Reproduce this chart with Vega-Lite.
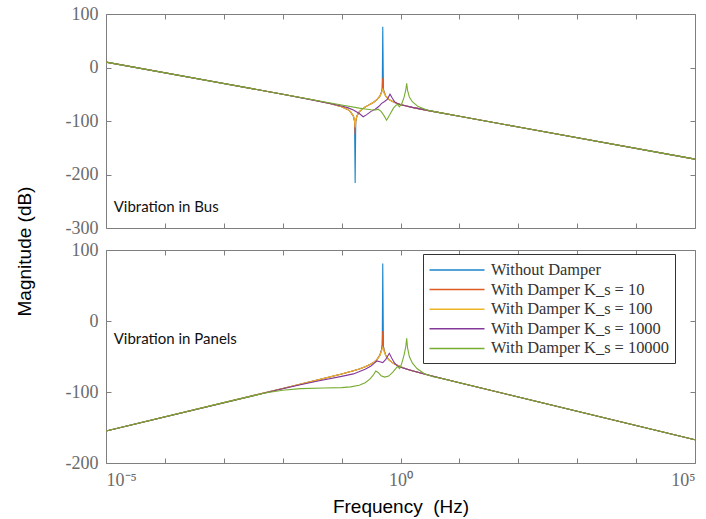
{
  "$schema": "https://vega.github.io/schema/vega-lite/v6.json",
  "padding": {"left": 14, "top": 4, "right": 0, "bottom": 0},
  "background": "white",
  "spacing": 22,
  "bounds": "flush",
  "resolve": {"scale": {"color": "independent"}},
  "datasets": {
    "bus": [
      {"s":"Without Damper","f":0.00001,"m":10},{"s":"Without Damper","f":0.001,"m":-30},{"s":"Without Damper","f":0.01,"m":-50},{"s":"Without Damper","f":0.03162,"m":-60.3},{"s":"Without Damper","f":0.0631,"m":-67.2},{"s":"Without Damper","f":0.1,"m":-73.3},{"s":"Without Damper","f":0.1259,"m":-78.3},{"s":"Without Damper","f":0.1413,"m":-82.5},{"s":"Without Damper","f":0.1585,"m":-90.8},{"s":"Without Damper","f":0.166,"m":-100},{"s":"Without Damper","f":0.1698,"m":-216},{"s":"Without Damper","f":0.1738,"m":-100.6},{"s":"Without Damper","f":0.182,"m":-90.7},{"s":"Without Damper","f":0.1995,"m":-83},{"s":"Without Damper","f":0.2239,"m":-77.7},{"s":"Without Damper","f":0.2512,"m":-74},{"s":"Without Damper","f":0.2818,"m":-70.8},{"s":"Without Damper","f":0.3162,"m":-67.7},{"s":"Without Damper","f":0.3548,"m":-64.5},{"s":"Without Damper","f":0.3981,"m":-60.2},{"s":"Without Damper","f":0.4467,"m":-53.7},{"s":"Without Damper","f":0.4786,"m":-45.3},{"s":"Without Damper","f":0.4898,"m":-38.6},{"s":"Without Damper","f":0.5,"m":76},{"s":"Without Damper","f":0.5129,"m":-40.4},{"s":"Without Damper","f":0.5248,"m":-45.9},{"s":"Without Damper","f":0.5623,"m":-53.5},{"s":"Without Damper","f":0.631,"m":-59.3},{"s":"Without Damper","f":0.7079,"m":-62.8},{"s":"Without Damper","f":0.7943,"m":-65.3},{"s":"Without Damper","f":1,"m":-69},{"s":"Without Damper","f":1.259,"m":-71.9},{"s":"Without Damper","f":1.585,"m":-74.5},{"s":"Without Damper","f":3.162,"m":-81.1},{"s":"Without Damper","f":10,"m":-91.2},{"s":"Without Damper","f":100,"m":-111.2},{"s":"Without Damper","f":100000,"m":-171.2},

      {"s":"With Damper K_s = 10","f":0.00001,"m":10},{"s":"With Damper K_s = 10","f":0.001,"m":-30},{"s":"With Damper K_s = 10","f":0.01,"m":-50},{"s":"With Damper K_s = 10","f":0.03162,"m":-60.3},{"s":"With Damper K_s = 10","f":0.0631,"m":-67.2},{"s":"With Damper K_s = 10","f":0.1,"m":-73.3},{"s":"With Damper K_s = 10","f":0.1259,"m":-78.3},{"s":"With Damper K_s = 10","f":0.1413,"m":-82.5},{"s":"With Damper K_s = 10","f":0.1585,"m":-90.8},{"s":"With Damper K_s = 10","f":0.166,"m":-100},{"s":"With Damper K_s = 10","f":0.1698,"m":-125},{"s":"With Damper K_s = 10","f":0.1738,"m":-100.6},{"s":"With Damper K_s = 10","f":0.182,"m":-90.7},{"s":"With Damper K_s = 10","f":0.1995,"m":-83},{"s":"With Damper K_s = 10","f":0.2239,"m":-77.7},{"s":"With Damper K_s = 10","f":0.2512,"m":-74},{"s":"With Damper K_s = 10","f":0.2818,"m":-70.8},{"s":"With Damper K_s = 10","f":0.3162,"m":-67.7},{"s":"With Damper K_s = 10","f":0.3548,"m":-64.5},{"s":"With Damper K_s = 10","f":0.3981,"m":-60.2},{"s":"With Damper K_s = 10","f":0.4467,"m":-53.7},{"s":"With Damper K_s = 10","f":0.4786,"m":-45.3},{"s":"With Damper K_s = 10","f":0.4898,"m":-38.6},{"s":"With Damper K_s = 10","f":0.5,"m":-19},{"s":"With Damper K_s = 10","f":0.5129,"m":-40.4},{"s":"With Damper K_s = 10","f":0.5248,"m":-45.9},{"s":"With Damper K_s = 10","f":0.5623,"m":-53.5},{"s":"With Damper K_s = 10","f":0.631,"m":-59.3},{"s":"With Damper K_s = 10","f":0.7079,"m":-62.8},{"s":"With Damper K_s = 10","f":0.7943,"m":-65.3},{"s":"With Damper K_s = 10","f":1,"m":-69},{"s":"With Damper K_s = 10","f":1.259,"m":-71.9},{"s":"With Damper K_s = 10","f":1.585,"m":-74.5},{"s":"With Damper K_s = 10","f":3.162,"m":-81.1},{"s":"With Damper K_s = 10","f":10,"m":-91.2},{"s":"With Damper K_s = 10","f":100,"m":-111.2},{"s":"With Damper K_s = 10","f":100000,"m":-171.2},

      {"s":"With Damper K_s = 100","f":0.00001,"m":10},{"s":"With Damper K_s = 100","f":0.001,"m":-30},{"s":"With Damper K_s = 100","f":0.01,"m":-50},{"s":"With Damper K_s = 100","f":0.03162,"m":-60.3},{"s":"With Damper K_s = 100","f":0.0631,"m":-67.2},{"s":"With Damper K_s = 100","f":0.1,"m":-73.3},{"s":"With Damper K_s = 100","f":0.1259,"m":-78.3},{"s":"With Damper K_s = 100","f":0.1413,"m":-82.5},{"s":"With Damper K_s = 100","f":0.1585,"m":-90.5},{"s":"With Damper K_s = 100","f":0.166,"m":-98},{"s":"With Damper K_s = 100","f":0.1698,"m":-112},{"s":"With Damper K_s = 100","f":0.1738,"m":-99},{"s":"With Damper K_s = 100","f":0.182,"m":-90.5},{"s":"With Damper K_s = 100","f":0.1995,"m":-83},{"s":"With Damper K_s = 100","f":0.2239,"m":-77.7},{"s":"With Damper K_s = 100","f":0.2512,"m":-74},{"s":"With Damper K_s = 100","f":0.2818,"m":-70.8},{"s":"With Damper K_s = 100","f":0.3162,"m":-67.7},{"s":"With Damper K_s = 100","f":0.3548,"m":-64.5},{"s":"With Damper K_s = 100","f":0.3981,"m":-60.2},{"s":"With Damper K_s = 100","f":0.4467,"m":-53.7},{"s":"With Damper K_s = 100","f":0.4786,"m":-46.5},{"s":"With Damper K_s = 100","f":0.4898,"m":-43},{"s":"With Damper K_s = 100","f":0.5,"m":-40.5},{"s":"With Damper K_s = 100","f":0.5129,"m":-44},{"s":"With Damper K_s = 100","f":0.5248,"m":-47.5},{"s":"With Damper K_s = 100","f":0.5623,"m":-53.5},{"s":"With Damper K_s = 100","f":0.631,"m":-59.3},{"s":"With Damper K_s = 100","f":0.7079,"m":-62.8},{"s":"With Damper K_s = 100","f":0.7943,"m":-65.3},{"s":"With Damper K_s = 100","f":1,"m":-69},{"s":"With Damper K_s = 100","f":1.259,"m":-71.9},{"s":"With Damper K_s = 100","f":1.585,"m":-74.5},{"s":"With Damper K_s = 100","f":3.162,"m":-81.1},{"s":"With Damper K_s = 100","f":10,"m":-91.2},{"s":"With Damper K_s = 100","f":100,"m":-111.2},{"s":"With Damper K_s = 100","f":100000,"m":-171.2},

      {"s":"With Damper K_s = 1000","f":0.00001,"m":10},{"s":"With Damper K_s = 1000","f":0.01,"m":-50},{"s":"With Damper K_s = 1000","f":0.0631,"m":-67.3},{"s":"With Damper K_s = 1000","f":0.1,"m":-72},{"s":"With Damper K_s = 1000","f":0.1259,"m":-75},{"s":"With Damper K_s = 1000","f":0.1585,"m":-79.5},{"s":"With Damper K_s = 1000","f":0.1995,"m":-86},{"s":"With Damper K_s = 1000","f":0.2333,"m":-92},{"s":"With Damper K_s = 1000","f":0.263,"m":-88.5},{"s":"With Damper K_s = 1000","f":0.3162,"m":-82},{"s":"With Damper K_s = 1000","f":0.3715,"m":-78},{"s":"With Damper K_s = 1000","f":0.4266,"m":-73},{"s":"With Damper K_s = 1000","f":0.4786,"m":-67},{"s":"With Damper K_s = 1000","f":0.537,"m":-63.5},{"s":"With Damper K_s = 1000","f":0.6026,"m":-59},{"s":"With Damper K_s = 1000","f":0.6637,"m":-50},{"s":"With Damper K_s = 1000","f":0.7244,"m":-57},{"s":"With Damper K_s = 1000","f":0.7943,"m":-64},{"s":"With Damper K_s = 1000","f":0.8913,"m":-67.5},{"s":"With Damper K_s = 1000","f":1,"m":-69.5},{"s":"With Damper K_s = 1000","f":1.259,"m":-72},{"s":"With Damper K_s = 1000","f":1.585,"m":-74.5},{"s":"With Damper K_s = 1000","f":3.162,"m":-81.1},{"s":"With Damper K_s = 1000","f":10,"m":-91.2},{"s":"With Damper K_s = 1000","f":100,"m":-111.2},{"s":"With Damper K_s = 1000","f":100000,"m":-171.2},

      {"s":"With Damper K_s = 10000","f":0.00001,"m":10},{"s":"With Damper K_s = 10000","f":0.01,"m":-50},{"s":"With Damper K_s = 10000","f":0.1,"m":-70},{"s":"With Damper K_s = 10000","f":0.1995,"m":-76},{"s":"With Damper K_s = 10000","f":0.2512,"m":-77.5},{"s":"With Damper K_s = 10000","f":0.3162,"m":-79},{"s":"With Damper K_s = 10000","f":0.3802,"m":-79.5},{"s":"With Damper K_s = 10000","f":0.4169,"m":-78},{"s":"With Damper K_s = 10000","f":0.4677,"m":-82},{"s":"With Damper K_s = 10000","f":0.5248,"m":-90},{"s":"With Damper K_s = 10000","f":0.5808,"m":-98.5},{"s":"With Damper K_s = 10000","f":0.6607,"m":-88},{"s":"With Damper K_s = 10000","f":0.7586,"m":-76},{"s":"With Damper K_s = 10000","f":0.8511,"m":-70},{"s":"With Damper K_s = 10000","f":0.9016,"m":-69},{"s":"With Damper K_s = 10000","f":0.955,"m":-73.5},{"s":"With Damper K_s = 10000","f":1.047,"m":-68},{"s":"With Damper K_s = 10000","f":1.148,"m":-56},{"s":"With Damper K_s = 10000","f":1.23,"m":-42},{"s":"With Damper K_s = 10000","f":1.274,"m":-29.6},{"s":"With Damper K_s = 10000","f":1.318,"m":-43},{"s":"With Damper K_s = 10000","f":1.413,"m":-55},{"s":"With Damper K_s = 10000","f":1.585,"m":-64},{"s":"With Damper K_s = 10000","f":1.995,"m":-73},{"s":"With Damper K_s = 10000","f":2.818,"m":-79.5},{"s":"With Damper K_s = 10000","f":3.981,"m":-83},{"s":"With Damper K_s = 10000","f":10,"m":-91.2},{"s":"With Damper K_s = 10000","f":100,"m":-111.2},{"s":"With Damper K_s = 10000","f":100000,"m":-171.2}
    ],
    "panels": [
      {"s":"Without Damper","f":0.00001,"m":-155},{"s":"Without Damper","f":0.01,"m":-95},{"s":"Without Damper","f":0.03162,"m":-85},{"s":"Without Damper","f":0.1,"m":-74.65},{"s":"Without Damper","f":0.1585,"m":-70.1},{"s":"Without Damper","f":0.1995,"m":-67.5},{"s":"Without Damper","f":0.2512,"m":-64.5},{"s":"Without Damper","f":0.3162,"m":-60.6},{"s":"Without Damper","f":0.3548,"m":-58},{"s":"Without Damper","f":0.3981,"m":-54.3},{"s":"Without Damper","f":0.4467,"m":-48.1},{"s":"Without Damper","f":0.4786,"m":-39.9},{"s":"Without Damper","f":0.4898,"m":-33.3},{"s":"Without Damper","f":0.5,"m":81},{"s":"Without Damper","f":0.5129,"m":-35.2},{"s":"Without Damper","f":0.5248,"m":-40.75},{"s":"Without Damper","f":0.5623,"m":-48.45},{"s":"Without Damper","f":0.631,"m":-54.5},{"s":"Without Damper","f":0.7079,"m":-58},{"s":"Without Damper","f":0.7943,"m":-60.7},{"s":"Without Damper","f":1,"m":-64.5},{"s":"Without Damper","f":1.259,"m":-67.6},{"s":"Without Damper","f":1.585,"m":-70.1},{"s":"Without Damper","f":3.162,"m":-76.8},{"s":"Without Damper","f":10,"m":-87},{"s":"Without Damper","f":100,"m":-107},{"s":"Without Damper","f":100000,"m":-167.3},

      {"s":"With Damper K_s = 10","f":0.00001,"m":-155},{"s":"With Damper K_s = 10","f":0.01,"m":-95},{"s":"With Damper K_s = 10","f":0.03162,"m":-85},{"s":"With Damper K_s = 10","f":0.1,"m":-74.65},{"s":"With Damper K_s = 10","f":0.1585,"m":-70.1},{"s":"With Damper K_s = 10","f":0.1995,"m":-67.5},{"s":"With Damper K_s = 10","f":0.2512,"m":-64.5},{"s":"With Damper K_s = 10","f":0.3162,"m":-60.6},{"s":"With Damper K_s = 10","f":0.3548,"m":-58},{"s":"With Damper K_s = 10","f":0.3981,"m":-54.3},{"s":"With Damper K_s = 10","f":0.4467,"m":-48.1},{"s":"With Damper K_s = 10","f":0.4786,"m":-39.9},{"s":"With Damper K_s = 10","f":0.4898,"m":-33.3},{"s":"With Damper K_s = 10","f":0.5,"m":-14},{"s":"With Damper K_s = 10","f":0.5129,"m":-35.2},{"s":"With Damper K_s = 10","f":0.5248,"m":-40.75},{"s":"With Damper K_s = 10","f":0.5623,"m":-48.45},{"s":"With Damper K_s = 10","f":0.631,"m":-54.5},{"s":"With Damper K_s = 10","f":0.7079,"m":-58},{"s":"With Damper K_s = 10","f":0.7943,"m":-60.7},{"s":"With Damper K_s = 10","f":1,"m":-64.5},{"s":"With Damper K_s = 10","f":1.259,"m":-67.6},{"s":"With Damper K_s = 10","f":1.585,"m":-70.1},{"s":"With Damper K_s = 10","f":3.162,"m":-76.8},{"s":"With Damper K_s = 10","f":10,"m":-87},{"s":"With Damper K_s = 10","f":100,"m":-107},{"s":"With Damper K_s = 10","f":100000,"m":-167.3},

      {"s":"With Damper K_s = 100","f":0.00001,"m":-155},{"s":"With Damper K_s = 100","f":0.01,"m":-95},{"s":"With Damper K_s = 100","f":0.03162,"m":-85},{"s":"With Damper K_s = 100","f":0.1,"m":-74.65},{"s":"With Damper K_s = 100","f":0.1585,"m":-70.1},{"s":"With Damper K_s = 100","f":0.1995,"m":-67.5},{"s":"With Damper K_s = 100","f":0.2512,"m":-64.5},{"s":"With Damper K_s = 100","f":0.3162,"m":-60.6},{"s":"With Damper K_s = 100","f":0.3548,"m":-58},{"s":"With Damper K_s = 100","f":0.3981,"m":-54.3},{"s":"With Damper K_s = 100","f":0.4467,"m":-48.5},{"s":"With Damper K_s = 100","f":0.4786,"m":-42},{"s":"With Damper K_s = 100","f":0.4898,"m":-39.5},{"s":"With Damper K_s = 100","f":0.5,"m":-37.5},{"s":"With Damper K_s = 100","f":0.5129,"m":-40},{"s":"With Damper K_s = 100","f":0.5248,"m":-43},{"s":"With Damper K_s = 100","f":0.5623,"m":-48.45},{"s":"With Damper K_s = 100","f":0.631,"m":-54.5},{"s":"With Damper K_s = 100","f":0.7079,"m":-58},{"s":"With Damper K_s = 100","f":0.7943,"m":-60.7},{"s":"With Damper K_s = 100","f":1,"m":-64.5},{"s":"With Damper K_s = 100","f":1.259,"m":-67.6},{"s":"With Damper K_s = 100","f":1.585,"m":-70.1},{"s":"With Damper K_s = 100","f":3.162,"m":-76.8},{"s":"With Damper K_s = 100","f":10,"m":-87},{"s":"With Damper K_s = 100","f":100,"m":-107},{"s":"With Damper K_s = 100","f":100000,"m":-167.3},

      {"s":"With Damper K_s = 1000","f":0.00001,"m":-155},{"s":"With Damper K_s = 1000","f":0.01,"m":-95.3},{"s":"With Damper K_s = 1000","f":0.01995,"m":-89.8},{"s":"With Damper K_s = 1000","f":0.03981,"m":-84.5},{"s":"With Damper K_s = 1000","f":0.1,"m":-78},{"s":"With Damper K_s = 1000","f":0.1585,"m":-74.5},{"s":"With Damper K_s = 1000","f":0.2512,"m":-68},{"s":"With Damper K_s = 1000","f":0.3162,"m":-63.5},{"s":"With Damper K_s = 1000","f":0.3631,"m":-59},{"s":"With Damper K_s = 1000","f":0.3981,"m":-56.3},{"s":"With Damper K_s = 1000","f":0.4467,"m":-57.5},{"s":"With Damper K_s = 1000","f":0.5,"m":-58.6},{"s":"With Damper K_s = 1000","f":0.5623,"m":-54},{"s":"With Damper K_s = 1000","f":0.6457,"m":-45.5},{"s":"With Damper K_s = 1000","f":0.7079,"m":-52},{"s":"With Damper K_s = 1000","f":0.7943,"m":-59.5},{"s":"With Damper K_s = 1000","f":0.8913,"m":-63.5},{"s":"With Damper K_s = 1000","f":1,"m":-65},{"s":"With Damper K_s = 1000","f":1.259,"m":-67.6},{"s":"With Damper K_s = 1000","f":1.585,"m":-70.1},{"s":"With Damper K_s = 1000","f":3.162,"m":-76.8},{"s":"With Damper K_s = 1000","f":10,"m":-87},{"s":"With Damper K_s = 1000","f":100,"m":-107},{"s":"With Damper K_s = 1000","f":100000,"m":-167.3},

      {"s":"With Damper K_s = 10000","f":0.00001,"m":-155},{"s":"With Damper K_s = 10000","f":0.001,"m":-115},{"s":"With Damper K_s = 10000","f":0.002512,"m":-107.2},{"s":"With Damper K_s = 10000","f":0.005012,"m":-101.5},{"s":"With Damper K_s = 10000","f":0.01,"m":-97.5},{"s":"With Damper K_s = 10000","f":0.01995,"m":-95.3},{"s":"With Damper K_s = 10000","f":0.05012,"m":-94.3},{"s":"With Damper K_s = 10000","f":0.1,"m":-93.8},{"s":"With Damper K_s = 10000","f":0.1413,"m":-92.8},{"s":"With Damper K_s = 10000","f":0.1995,"m":-90.5},{"s":"With Damper K_s = 10000","f":0.2512,"m":-87},{"s":"With Damper K_s = 10000","f":0.302,"m":-82},{"s":"With Damper K_s = 10000","f":0.3467,"m":-76},{"s":"With Damper K_s = 10000","f":0.3802,"m":-70.5},{"s":"With Damper K_s = 10000","f":0.4169,"m":-72.5},{"s":"With Damper K_s = 10000","f":0.4677,"m":-77},{"s":"With Damper K_s = 10000","f":0.537,"m":-79},{"s":"With Damper K_s = 10000","f":0.631,"m":-77.5},{"s":"With Damper K_s = 10000","f":0.7413,"m":-72},{"s":"With Damper K_s = 10000","f":0.8511,"m":-66},{"s":"With Damper K_s = 10000","f":0.8913,"m":-64},{"s":"With Damper K_s = 10000","f":0.9333,"m":-66},{"s":"With Damper K_s = 10000","f":0.9661,"m":-67},{"s":"With Damper K_s = 10000","f":1.047,"m":-60},{"s":"With Damper K_s = 10000","f":1.148,"m":-48},{"s":"With Damper K_s = 10000","f":1.23,"m":-36},{"s":"With Damper K_s = 10000","f":1.274,"m":-24.3},{"s":"With Damper K_s = 10000","f":1.318,"m":-38},{"s":"With Damper K_s = 10000","f":1.413,"m":-50},{"s":"With Damper K_s = 10000","f":1.585,"m":-59},{"s":"With Damper K_s = 10000","f":1.905,"m":-67},{"s":"With Damper K_s = 10000","f":2.512,"m":-74},{"s":"With Damper K_s = 10000","f":3.548,"m":-78.5},{"s":"With Damper K_s = 10000","f":5.012,"m":-81},{"s":"With Damper K_s = 10000","f":10,"m":-87},{"s":"With Damper K_s = 10000","f":100,"m":-107},{"s":"With Damper K_s = 10000","f":100000,"m":-167.3}
    ],
    "busLabel": [{"f": 0.0000135, "m": -261, "label": "Vibration in Bus"}],
    "panelLabel": [{"f": 0.0000135, "m": -25, "label": "Vibration in Panels"}]
  },
  "vconcat": [
    {
      "width": 589, "height": 214,
      "layer": [
        {
          "data": {"name": "bus"},
          "mark": {"type": "line", "strokeWidth": 1.1, "clip": true},
          "encoding": {
            "x": {"field": "f", "type": "quantitative", "scale": {"type": "log", "domain": [0.00001, 100000], "nice": false},
                  "axis": {"orient": "bottom", "values": [0.00001,0.0001,0.001,0.01,0.1,1,10,100,1000,10000,100000], "labels": false, "title": null}},
            "y": {"field": "m", "type": "quantitative", "scale": {"domain": [-300, 100], "nice": false, "zero": false},
                  "axis": {"orient": "left", "values": [-300,-200,-100,0,100], "labelExpr": "toString(datum.value)",
                           "title": "Magnitude (dB)", "titleAngle": -90, "titleAlign": "center", "titleBaseline": "middle",
                           "titleX": -82, "titleY": 237}},
            "color": {"field": "s", "type": "nominal",
                      "scale": {"domain": ["Without Damper","With Damper K_s = 10","With Damper K_s = 100","With Damper K_s = 1000","With Damper K_s = 10000"],
                                "range": ["#1a85cc","#DD5A22","#EDB526","#83389a","#77AC30"]},
                      "legend": null}
          }
        },
        {
          "data": {"name": "busLabel"},
          "mark": {"type": "text", "align": "left", "baseline": "middle", "font": "Lato", "fontSize": 15, "color": "#111111"},
          "encoding": {
            "x": {"field": "f", "type": "quantitative", "axis": {"orient": "top", "values": [0.00001,0.0001,0.001,0.01,0.1,1,10,100,1000,10000,100000], "labels": false, "title": null}},
            "y": {"field": "m", "type": "quantitative", "axis": {"orient": "right", "values": [-300,-200,-100,0,100], "labels": false, "title": null}},
            "text": {"field": "label"}
          }
        }
      ],
      "resolve": {"axis": {"x": "independent", "y": "independent"}}
    },
    {
      "width": 589, "height": 213,
      "layer": [
        {
          "data": {"name": "panels"},
          "mark": {"type": "line", "strokeWidth": 1.1, "clip": true},
          "encoding": {
            "x": {"field": "f", "type": "quantitative", "scale": {"type": "log", "domain": [0.00001, 100000], "nice": false},
                  "axis": {"orient": "bottom", "values": [0.00001,0.0001,0.001,0.01,0.1,1,10,100,1000,10000,100000],
                           "labelExpr": "datum.value == 1 ? '10⁰' : (datum.value < 0.0001 ? '10⁻⁵' : (datum.value > 10000 ? '10⁵' : ''))",
                           "title": "Frequency\u00a0\u00a0(Hz)", "titlePadding": 8}},
            "y": {"field": "m", "type": "quantitative", "scale": {"domain": [-200, 100], "nice": false, "zero": false},
                  "axis": {"orient": "left", "values": [-200,-100,0,100], "labelExpr": "toString(datum.value)", "title": null}},
            "color": {"field": "s", "type": "nominal",
                      "scale": {"domain": ["Without Damper","With Damper K_s = 10","With Damper K_s = 100","With Damper K_s = 1000","With Damper K_s = 10000"],
                                "range": ["#1a85cc","#DD5A22","#EDB526","#83389a","#77AC30"]},
                      "legend": {"orient": "none", "legendX": 317, "legendY": 4, "title": null,
                                 "symbolType": "M-3,0H3", "symbolSize": 336, "symbolStrokeWidth": 1.5,
                                 "symbolOffset": 18, "labelOffset": 24, "labelLimit": 400,
                                 "labelFont": "Liberation Serif", "labelFontSize": 16.4, "labelColor": "#333333",
                                 "strokeColor": "#333333", "fillColor": "#ffffff", "padding": 6, "rowPadding": 0.6}}
          }
        },
        {
          "data": {"name": "panelLabel"},
          "mark": {"type": "text", "align": "left", "baseline": "middle", "font": "Lato", "fontSize": 15, "color": "#111111"},
          "encoding": {
            "x": {"field": "f", "type": "quantitative", "axis": {"orient": "top", "values": [0.00001,0.0001,0.001,0.01,0.1,1,10,100,1000,10000,100000], "labels": false, "title": null}},
            "y": {"field": "m", "type": "quantitative", "axis": {"orient": "right", "values": [-200,-100,0,100], "labels": false, "title": null}},
            "text": {"field": "label"}
          }
        }
      ],
      "resolve": {"axis": {"x": "independent", "y": "independent"}}
    }
  ],
  "config": {
    "view": {"stroke": "#7f7f7f", "strokeWidth": 1},
    "axis": {"domain": false, "grid": false, "tickColor": "#7f7f7f", "tickSize": -5, "labelPadding": 13,
             "labelFont": "Liberation Serif", "labelFontSize": 18, "labelColor": "#6a6a6a",
             "titleFont": "Liberation Sans", "titleFontSize": 19, "titleFontWeight": "normal", "titleColor": "#000000"}
  }
}
